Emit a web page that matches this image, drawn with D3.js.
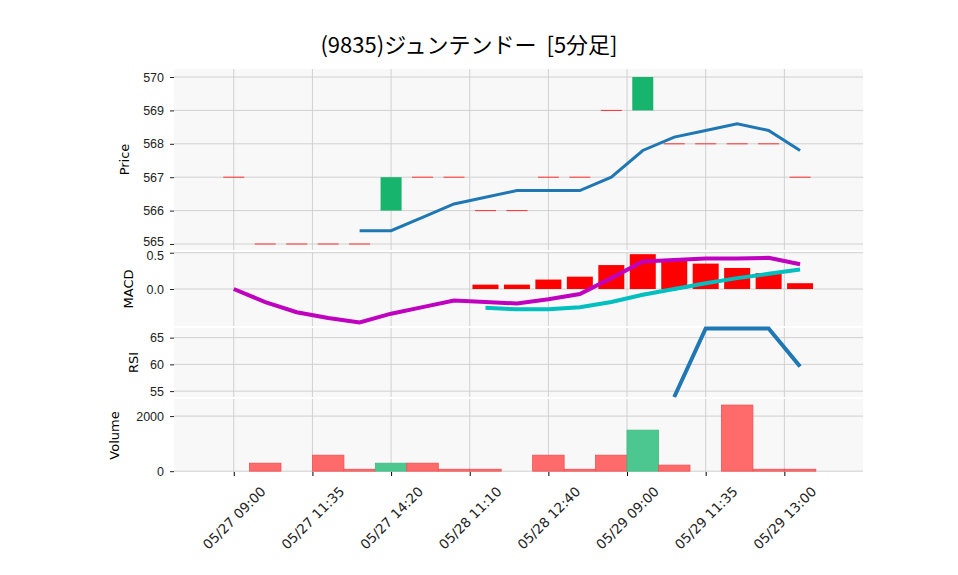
<!DOCTYPE html>
<html><head><meta charset="utf-8">
<script src="https://cdn.jsdelivr.net/npm/d3@7"></script>
<style>
body{margin:0;background:#fff;font-family:"DejaVu Sans",sans-serif;}
</style></head>
<body><div id="chart"></div>
<script>
const labels = ['05/27 09:00','05/27 11:35','05/27 14:20','05/28 11:10','05/28 12:40','05/29 09:00','05/29 11:35','05/29 13:00'];
const labelPos = [0, 2.5, 5, 7.5, 10, 12.5, 15, 17.5];
const open  = [567,565,565,565,565,566,567,567,566,566,567,567,569,569,568,568,568,568,567];
const close = [567,565,565,565,565,567,567,567,566,566,567,567,569,570,568,568,568,568,567];
const ma    = [null,null,null,null,565.4,565.4,565.8,566.2,566.4,566.6,566.6,566.6,567.0,567.8,568.2,568.4,568.6,568.4,567.8];
const macd  = [0,-0.18,-0.32,-0.40,-0.46,-0.34,-0.25,-0.16,-0.18,-0.20,-0.14,-0.07,0.15,0.38,0.40,0.42,0.42,0.43,0.34];
const signal= [null,null,null,null,null,null,null,null,-0.26,-0.28,-0.28,-0.25,-0.18,-0.08,0.0,0.08,0.15,0.21,0.27];
const hist  = [null,null,null,null,null,null,null,null,0.06,0.06,0.13,0.17,0.33,0.48,0.40,0.35,0.29,0.22,0.08];
const rsi   = [null,null,null,null,null,null,null,null,null,null,null,null,null,null,53.9,66.7,66.7,66.7,59.6];
const volume= [0,290,0,580,70,290,290,70,70,0,580,70,580,1490,220,0,2400,70,70];

const W = 958, H = 575, left = 174, right = 863;
const svg = d3.select('#chart').append('svg').attr('width', W).attr('height', H);
const x = d3.scaleLinear().domain([-1.9, 20.0]).range([left, right]);
const idx = d3.range(open.length);

svg.append('text').attr('x', 469).attr('y', 53).attr('text-anchor', 'middle')
  .attr('font-size', 22).attr('font-family', '"Noto Sans CJK JP",sans-serif')
  .attr('xml:space', 'preserve').style('white-space', 'pre')
  .text('(9835)ジュンテンドー  [5分足]');

// panel definitions
const panels = [
  {name:'Price', top:69, bottom:250, domain:[564.82,570.24], ticks:[565,566,567,568,569,570], lx:124},
  {name:'MACD', top:252, bottom:326, domain:[-0.51,0.51], ticks:[0.0,0.5], lx:128, fmt:d3.format('.1f')},
  {name:'RSI', top:328, bottom:397, domain:[53.9,66.8], ticks:[55,60,65], lx:133},
  {name:'Volume', top:399, bottom:472, domain:[-30,2620], ticks:[0,2000], lx:114}
];
panels.forEach((p, k) => {
  p.y = d3.scaleLinear().domain(p.domain).range([p.bottom, p.top]);
  svg.append('rect').attr('x', left).attr('y', p.top).attr('width', right-left)
    .attr('height', p.bottom-p.top).attr('fill', '#f8f8f8');
  const g = svg.append('g');
  g.selectAll('.vg').data(labelPos).join('line')
    .attr('x1', d => x(d)).attr('x2', d => x(d)).attr('y1', p.top).attr('y2', p.bottom)
    .attr('stroke', '#d0d0d0');
  const ax = g.append('g').attr('transform', `translate(${left},0)`)
    .call(d3.axisLeft(p.y).tickValues(p.ticks).tickSize(4).tickPadding(6).tickFormat(p.fmt || d3.format('d')));
  ax.select('.domain').remove();
  ax.selectAll('.tick line').attr('stroke', '#222');
  ax.selectAll('.tick text').attr('font-size', 12.5).attr('fill', '#222');
  // nudge the touching 565 / 0.5 labels apart a little
  if (k === 0) ax.selectAll('.tick text').filter(d => d === 565).attr('dy', '0.1em');
  if (k === 1) ax.selectAll('.tick text').filter(d => d === 0.5).attr('dy', '0.55em');
  g.selectAll('.hg').data(p.ticks).join('line')
    .attr('x1', left).attr('x2', right).attr('y1', d => p.y(d)).attr('y2', d => p.y(d))
    .attr('stroke', '#d0d0d0');
  svg.append('text').attr('transform', `translate(${p.lx},${(p.top+p.bottom)/2}) rotate(-90)`)
    .attr('text-anchor', 'middle').attr('dy', '0.35em').attr('font-size', 13).text(p.name);
});
const [pP, pM, pR, pV] = panels;

// candles
const cw = 21;
svg.append('g').selectAll('rect').data(idx).join('rect')
  .attr('x', i => x(i) - cw/2)
  .attr('y', i => pP.y(Math.max(open[i], close[i])) - (open[i] === close[i] ? 0.5 : 0))
  .attr('width', cw)
  .attr('height', i => Math.max(1, Math.abs(pP.y(open[i]) - pP.y(close[i]))))
  .attr('fill', i => close[i] > open[i] ? '#16b46c' : '#ff3030');

const line = (arr, y) => d3.line().defined(i => arr[i] !== null).x(i => x(i)).y(i => y(arr[i]))(idx);
svg.append('path').attr('d', line(ma, pP.y)).attr('fill', 'none').attr('stroke', '#1f77b4').attr('stroke-width', 3);

// MACD
svg.append('g').selectAll('rect').data(idx.filter(i => hist[i] !== null)).join('rect')
  .attr('x', i => x(i) - 13).attr('width', 26)
  .attr('y', i => pM.y(Math.max(0, hist[i]))).attr('height', i => Math.abs(pM.y(hist[i]) - pM.y(0)))
  .attr('fill', '#ff0000');
svg.append('path').attr('d', line(macd, pM.y)).attr('fill', 'none').attr('stroke', '#bf00bf').attr('stroke-width', 4);
svg.append('path').attr('d', line(signal, pM.y)).attr('fill', 'none').attr('stroke', '#00bfbf').attr('stroke-width', 4);

// RSI
svg.append('path').attr('d', line(rsi, pR.y)).attr('fill', 'none').attr('stroke', '#1f77b4').attr('stroke-width', 4);

// Volume
const vw = 31.5;
svg.append('g').selectAll('rect').data(idx.filter(i => volume[i] > 0)).join('rect')
  .attr('x', i => x(i) - vw/2).attr('width', vw)
  .attr('y', i => pV.y(volume[i])).attr('height', i => pV.y(0) - pV.y(volume[i]))
  .attr('fill', i => close[i] > open[i] ? '#4cc790' : '#ff6b6b')
  .attr('stroke', i => close[i] > open[i] ? '#3dbb83' : '#f05050').attr('stroke-width', 0.8);

// x axis (labels rotated around their centre, like the reference)
const xa = svg.append('g').attr('transform', `translate(0,${pV.bottom})`)
  .call(d3.axisBottom(x).tickValues(labelPos).tickSize(4).tickFormat((d, i) => labels[i]));
xa.select('.domain').remove();
xa.selectAll('.tick text').attr('font-size', 13.5).attr('font-family', '"DejaVu Sans",sans-serif')
  .attr('fill', '#222').attr('text-anchor', 'middle').attr('y', 0).attr('dy', '0.35em')
  .attr('transform', 'translate(0,46) rotate(-45)');
</script></body></html>
